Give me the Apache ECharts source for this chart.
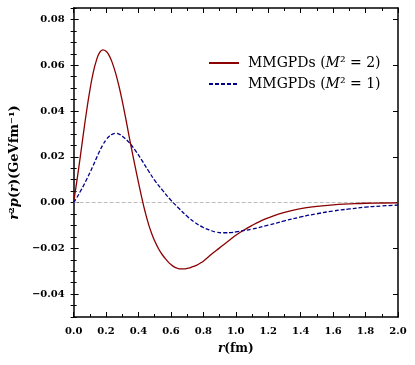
<!DOCTYPE html>
<html>
<head>
<meta charset="utf-8">
<script src="https://cdn.jsdelivr.net/npm/echarts@6/dist/echarts.min.js"></script>
<style>
	html, body { margin: 0; padding: 0; background: #fff; }
	#container { width: 415px; height: 365px; }
</style>
</head>
<body>
<div id="container"></div>
<script>
// r (fm) sample points and the two curves
var rRed = [0, 0.02, 0.04, 0.06, 0.08, 0.10, 0.12, 0.14, 0.16, 0.18, 0.20, 0.22, 0.24, 0.26, 0.28, 0.30,
	0.32, 0.34, 0.36, 0.38, 0.40, 0.42, 0.44, 0.46, 0.48, 0.50, 0.52, 0.54, 0.56, 0.58, 0.60, 0.62, 0.64,
	0.66, 0.68, 0.70, 0.72, 0.74, 0.76, 0.78, 0.80, 0.85, 0.90, 0.95, 1.00, 1.05, 1.10, 1.15, 1.20,
	1.30, 1.40, 1.50, 1.60, 1.70, 1.80, 1.90, 2.00];
var valRed = [0, 0.0095, 0.0195, 0.0300, 0.0400, 0.0490, 0.0565, 0.0620, 0.0655, 0.0667, 0.0661, 0.0641, 0.0607, 0.0562, 0.0507, 0.0443,
	0.0372, 0.0297, 0.0225, 0.0155, 0.0087, 0.0022, -0.0038, -0.0090, -0.0133, -0.0168, -0.0197, -0.0221, -0.0240, -0.0257, -0.0271, -0.0281, -0.0287,
	-0.0290, -0.0290, -0.0288, -0.0284, -0.0279, -0.0273, -0.0265, -0.0256, -0.0226, -0.0198, -0.0170, -0.0143, -0.0120, -0.0100, -0.0082, -0.0067,
	-0.0043, -0.0027, -0.0017, -0.0010, -0.0006, -0.0003, -0.0002, -0.0001];

var rBlue = [0, 0.02, 0.04, 0.06, 0.08, 0.10, 0.12, 0.14, 0.16, 0.18, 0.20, 0.22, 0.24, 0.26, 0.28, 0.30,
	0.34, 0.38, 0.42, 0.46, 0.50, 0.55, 0.60, 0.65, 0.70, 0.75, 0.80, 0.85, 0.88, 0.91, 0.94, 0.97, 1.00,
	1.10, 1.20, 1.30, 1.40, 1.50, 1.60, 1.70, 1.80, 1.90, 2.00];
var valBlue = [0, 0.0022, 0.0047, 0.0073, 0.0101, 0.0130, 0.0161, 0.0193, 0.0224, 0.0252, 0.0274, 0.0290, 0.0299, 0.0302, 0.0299, 0.0290,
	0.0264, 0.0228, 0.0185, 0.0140, 0.0097, 0.0052, 0.0010, -0.0026, -0.0060, -0.0088, -0.0109, -0.0123, -0.0129, -0.0132, -0.0132, -0.0131, -0.0128,
	-0.0116, -0.0099, -0.0080, -0.0063, -0.0049, -0.0037, -0.0028, -0.0020, -0.0015, -0.0011];

var yTicks = [-0.04, -0.02, 0, 0.02, 0.04, 0.06, 0.08];
var seriesNames = ['MMGPDs (M2 = 2)', 'MMGPDs (M2 = 1)'];

function pairs(xs, ys) {
	var out = [];
	for (var i = 0; i < xs.length; i++) out.push([xs[i], ys[i]]);
	return out;
}

var serif = 'DejaVu Serif';
var labelStyle = { fontFamily: serif, fontWeight: 'bold', fontSize: 10, color: '#000' };

function xAx(pos, showLabel) {
	return {
		type: 'value', position: pos, min: 0, max: 2, interval: 0.2,
		axisLine: { show: true, onZero: false, lineStyle: { color: '#000', width: 1.5 } },
		axisTick: { show: true, inside: true, length: 5, lineStyle: { color: '#000', width: 1 } },
		minorTick: { show: true, splitNumber: 2, length: 3, lineStyle: { color: '#000', width: 1 } },
		splitLine: { show: false },
		axisLabel: Object.assign({ show: showLabel, margin: 9, formatter: function(v) { return v.toFixed(1); } }, labelStyle),
		name: showLabel ? '{i|r}{n|(fm)}' : '',
		nameLocation: 'middle', nameGap: 26,
		nameTextStyle: { rich: {
			i: { fontFamily: serif, fontStyle: 'italic', fontWeight: 'bold', fontSize: 12, color: '#000' },
			n: { fontFamily: serif, fontWeight: 'bold', fontSize: 12, color: '#000' }
		} }
	};
}

function yMajor(pos, showLabel) {
	return {
		type: 'value', position: pos, min: -0.05, max: 0.085,
		axisLine: { show: true, onZero: false, lineStyle: { color: '#000', width: 1.5 } },
		axisTick: { show: true, inside: true, length: 5, customValues: yTicks, lineStyle: { color: '#000', width: 1 } },
		splitLine: { show: false },
		axisLabel: Object.assign({ show: showLabel, margin: 9, customValues: yTicks,
			formatter: function(v) { return (v < 0 ? '\u2212' : '') + Math.abs(v).toFixed(2); } }, labelStyle),
		name: showLabel ? '{i|r}{n|\u00b2}{i|p}{n|(}{i|r}{n|)(GeVfm\u207b\u00b9)}' : '',
		nameLocation: 'middle', nameGap: 46,
		nameTextStyle: { rich: {
			i: { fontFamily: serif, fontStyle: 'italic', fontWeight: 'bold', fontSize: 13, color: '#000' },
			n: { fontFamily: serif, fontWeight: 'bold', fontSize: 13, color: '#000' }
		} }
	};
}

function yMinor(pos) {
	return {
		type: 'value', position: pos, min: -0.05, max: 0.085, interval: 0.005,
		axisLine: { show: false },
		axisTick: { show: true, inside: true, length: 3, lineStyle: { color: '#000', width: 1 } },
		splitLine: { show: false },
		axisLabel: { show: false }
	};
}

var dom = document.getElementById('container');
var myChart = echarts.init(dom, null, { renderer: 'canvas' });

var option = {
	animation: false,
	backgroundColor: '#fff',
	grid: { left: 72, right: 17, top: 8, bottom: 48, containLabel: false },
	legend: {
		orient: 'vertical', left: 203, top: 51,
		itemWidth: 30, itemHeight: 14, itemGap: 7,
		itemStyle: { opacity: 0 },
		data: seriesNames,
		formatter: function(name) {
			var m = name.match(/\(M2 = (\d)\)/);
			return '{a|MMGPDs (}{i|M}{a|\u00b2 = ' + m[1] + ')}';
		},
		textStyle: {
			padding: [0, 0, 0, 4],
			rich: {
				a: { fontFamily: serif, fontSize: 14, color: '#000' },
				i: { fontFamily: serif, fontStyle: 'italic', fontSize: 14, color: '#000' }
			}
		}
	},
	xAxis: [xAx('bottom', true), xAx('top', false)],
	yAxis: [yMajor('left', true), yMinor('left'), yMajor('right', false), yMinor('right')],
	series: [
		{
			name: seriesNames[0], type: 'line', xAxisIndex: 0, yAxisIndex: 0,
			data: pairs(rRed, valRed), smooth: true, symbol: 'none', z: 3,
			lineStyle: { color: '#8b0000', width: 1.3 }, itemStyle: { color: '#8b0000' }
		},
		{
			name: seriesNames[1], type: 'line', xAxisIndex: 0, yAxisIndex: 0,
			data: pairs(rBlue, valBlue), smooth: true, symbol: 'none', z: 3,
			lineStyle: { color: '#00008b', width: 1.3, type: [4, 2] }, itemStyle: { color: '#00008b' },
			markLine: {
				silent: true, symbol: ['none', 'none'], label: { show: false }, z: 1,
				lineStyle: { color: '#bdbdbd', type: [4, 2], width: 1 },
				data: [{ yAxis: 0 }]
			}
		}
	]
};
myChart.setOption(option, true);
</script>
</body>
</html>
